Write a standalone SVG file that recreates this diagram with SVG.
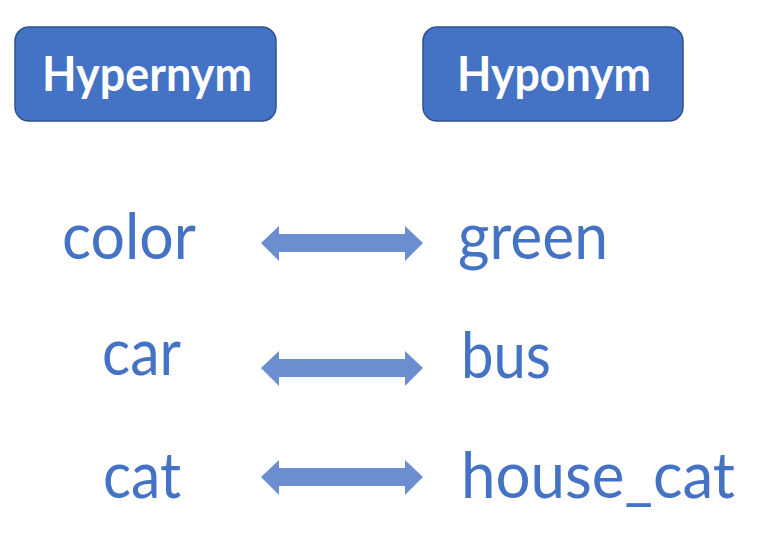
<svg xmlns="http://www.w3.org/2000/svg" width="757" height="541" viewBox="0 0 757 541">
<style>
.box{fill:#4472C4;stroke:#2F528F;stroke-width:1.5}
.hdr{font-family:Lato,"Liberation Sans",sans-serif;font-weight:bold;font-size:48px;fill:#FFFFFF}
.word{font-family:Lato,"Liberation Sans",sans-serif;font-size:64px;fill:#4472C4}
.arrow{fill:#6A8ECF}
</style>
<rect width="757" height="541" fill="#FFFFFF"/>
<g id="hypernym">
<rect class="box" x="15" y="27" width="261" height="94" rx="14"/>
<text class="hdr" x="42" y="91" textLength="210" lengthAdjust="spacingAndGlyphs">Hypernym</text>
</g>
<g id="hyponym">
<rect class="box" x="423" y="27" width="260" height="94" rx="14"/>
<text class="hdr" x="457" y="91" textLength="194" lengthAdjust="spacingAndGlyphs">Hyponym</text>
</g>
<g id="color"><text class="word" x="62" y="259" textLength="134" lengthAdjust="spacingAndGlyphs">color</text></g>
<g id="car"><text class="word" x="102" y="375" textLength="79" lengthAdjust="spacingAndGlyphs">car</text></g>
<g id="cat"><text class="word" x="103" y="498" textLength="78" lengthAdjust="spacingAndGlyphs">cat</text></g>
<g id="green"><text class="word" x="458" y="259" textLength="150" lengthAdjust="spacingAndGlyphs">green</text></g>
<g id="bus"><text class="word" x="461" y="378" textLength="90" lengthAdjust="spacingAndGlyphs">bus</text></g>
<g id="house_cat"><text class="word" x="461" y="498" textLength="274" lengthAdjust="spacingAndGlyphs">house_cat</text></g>
<g id="connectors">
<polygon class="arrow" points="261,243 279,226 279,234 405,234 405,226 423,243 405,261 405,252 279,252 279,261"/>
<polygon class="arrow" points="261,368 279,351 279,359 405,359 405,351 423,368 405,386 405,377 279,377 279,386"/>
<polygon class="arrow" points="261,477 279,460 279,468 405,468 405,460 423,477 405,495 405,486 279,486 279,495"/>
</g>
</svg>
